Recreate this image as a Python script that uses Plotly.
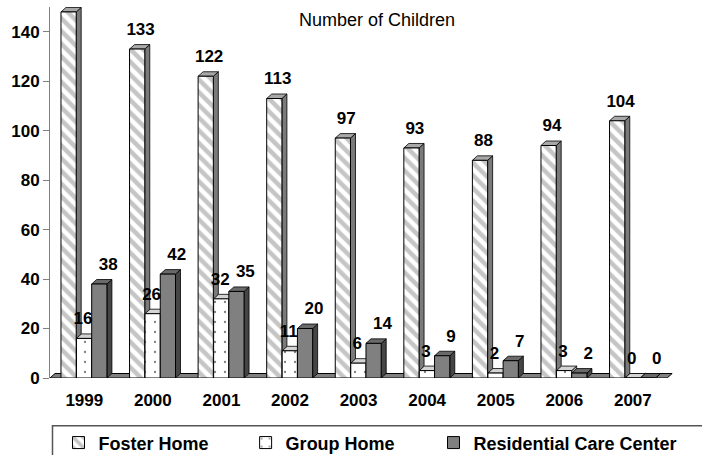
import plotly.graph_objects as go

# ---------------- data ----------------
years = ["1999", "2000", "2001", "2002", "2003", "2004", "2005", "2006", "2007"]
foster = [148, 133, 122, 113, 97, 93, 88, 94, 104]
group_home = [16, 26, 32, 11, 6, 3, 2, 3, 0]
residential = [38, 42, 35, 20, 14, 9, 7, 2, 0]
series_names = ["Foster Home", "Group Home", "Residential Care Center"]
y_ticks = [0, 20, 40, 60, 80, 100, 120, 140]
chart_title = "Number of Children"

# ---------------- style ----------------
FONT = "Arial, Liberation Sans, sans-serif"
FS = 17
BAR_W = 0.222
OFFSETS = [-0.34, -0.114, 0.108]
DX = 0.073      # 3D depth in x units
DY = 1.82       # 3D depth in y units
LABEL_GAP = 7.4
LABEL_SHIFT = [0.05, -0.015, 0.13]   # label x shift from front-face centre
LEGEND_X = [0.0136, 0.3135, 0.6146]
front_colors = ["white", "white", "#808080"]
patterns = [
    dict(shape="\\", fgcolor="#8c8c8c", bgcolor="white", size=9, solidity=0.5),
    dict(shape=".", fgcolor="black", bgcolor="white", size=10, solidity=0.04),
    dict(shape="", fgcolor="#808080", bgcolor="#808080"),
]
side_colors = ["#7a7a7a", "#b5b5b5", "#454545"]
top_colors = ["#a8a8a8", "#d4d4d4", "#6a6a6a"]

all_series = [foster, group_home, residential]
xs = list(range(len(years)))
legend_ids = ["legend", "legend2", "legend3"]

fig = go.Figure()
shapes = []

# floor
x_lo, x_hi = -0.5, len(years) - 0.5
shapes.append(dict(type="path", xref="x", yref="y", layer="between",
                   path=f"M {x_lo},0 L {x_hi},0 L {x_hi+DX},{DY} L {x_lo+DX},{DY} Z",
                   fillcolor="#808080", line=dict(color="black", width=1)))

for s, (name, vals) in enumerate(zip(series_names, all_series)):
    fig.add_trace(go.Bar(
        x=xs, y=vals, name=name, width=BAR_W, offset=OFFSETS[s],
        marker=dict(color=front_colors[s], pattern=patterns[s],
                    line=dict(color="black", width=1)),
        legend=legend_ids[s], hoverinfo="skip",
    ))
    for i, v in zip(xs, vals):
        xl = i + OFFSETS[s]
        xr = xl + BAR_W
        shapes.append(dict(type="path", xref="x", yref="y", layer="between",
                           path=f"M {xr},0 L {xr},{v} L {xr+DX},{v+DY} L {xr+DX},{DY} Z",
                           fillcolor=side_colors[s], line=dict(color="black", width=0.8)))
        shapes.append(dict(type="path", xref="x", yref="y", layer="between",
                           path=f"M {xl},{v} L {xr},{v} L {xr+DX},{v+DY} L {xl+DX},{v+DY} Z",
                           fillcolor=top_colors[s], line=dict(color="black", width=0.8)))

# value labels
for s, vals in enumerate(all_series):
    fig.add_trace(go.Scatter(
        x=[i + OFFSETS[s] + BAR_W / 2 + LABEL_SHIFT[s] for i in xs],
        y=[v + LABEL_GAP for v in vals],
        text=[str(v) for v in vals], mode="text", textposition="middle center",
        textfont=dict(family=FONT, size=FS, color="black", weight="bold"),
        showlegend=False, cliponaxis=False, hoverinfo="skip",
    ))

# legend box (extends past the page edge)
shapes.append(dict(type="rect", xref="paper", yref="paper",
                   x0=0.004, x1=1.2, y0=-0.129, y1=-0.4,
                   line=dict(color="#555555", width=1.5), fillcolor="rgba(0,0,0,0)"))

legend_common = dict(orientation="h", xanchor="left", y=-0.125, yanchor="top",
                     font=dict(family=FONT, size=18, color="black", weight="bold"),
                     bgcolor="rgba(0,0,0,0)", borderwidth=0)

fig.update_layout(
    width=702, height=455,
    margin=dict(l=50, r=28, t=7, b=77, autoexpand=False),
    paper_bgcolor="white", plot_bgcolor="white",
    barmode="overlay",
    shapes=shapes,
    title=dict(text=chart_title, x=377 / 702, xref="container", xanchor="center",
               y=1 - 20 / 455, yref="container", yanchor="middle",
               font=dict(family=FONT, size=18, color="black")),
    xaxis=dict(range=[x_lo, x_hi + 0.1], tickvals=xs, ticktext=years,
               showline=False, showgrid=False, zeroline=False,
               ticks="outside", ticklen=7, tickcolor="rgba(0,0,0,0)",
               tickfont=dict(family=FONT, size=FS, color="black", weight="bold")),
    yaxis=dict(range=[0, 150], tickvals=y_ticks, showgrid=False, zeroline=False,
               showline=True, linecolor="#808080", linewidth=1,
               ticks="outside", ticklen=6, tickcolor="#808080",
               tickfont=dict(family=FONT, size=FS, color="black", weight="bold")),
    legend=dict(x=LEGEND_X[0], **legend_common),
    legend2=dict(x=LEGEND_X[1], **legend_common),
    legend3=dict(x=LEGEND_X[2], **legend_common),
)

fig.write_html("out.html")
